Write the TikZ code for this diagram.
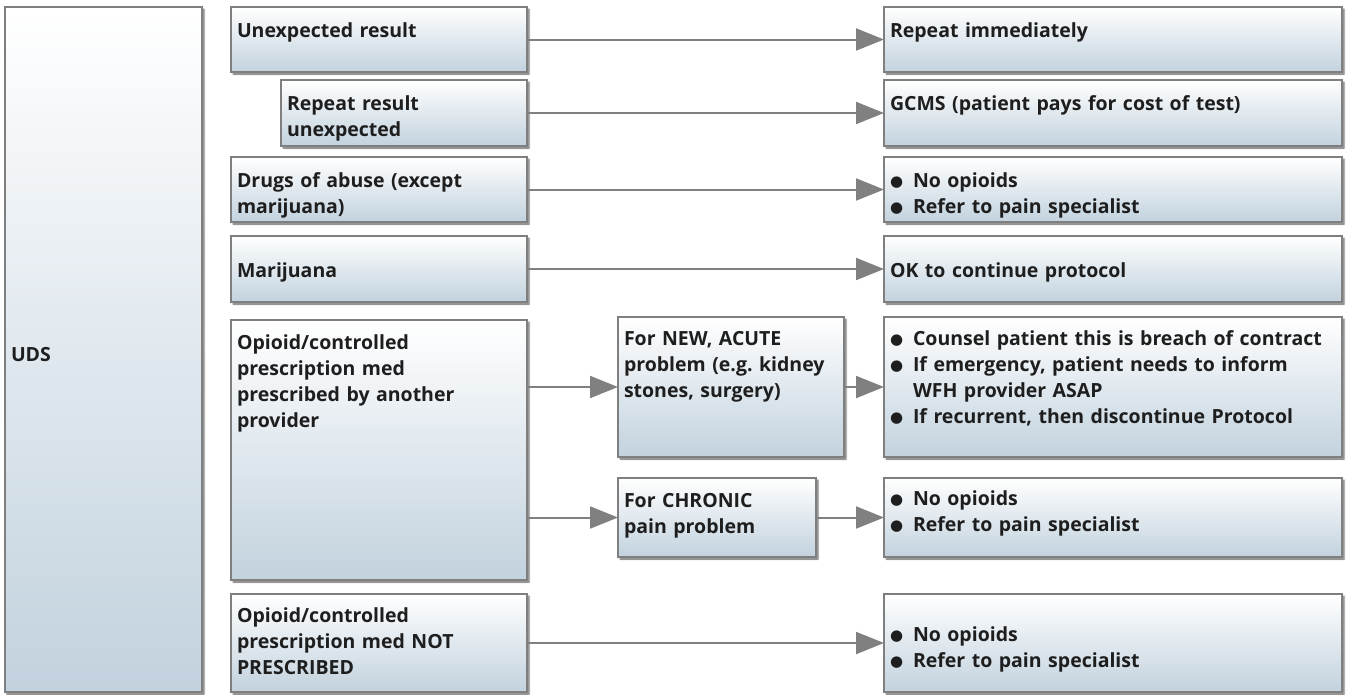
\documentclass[tikz,border=0pt]{standalone}
\usepackage{fontspec}
\setmainfont{Open Sans}
\newfontfamily\symfont{DejaVu Sans}
\usetikzlibrary{positioning,arrows.meta,shadows.blur}

\definecolor{linegray}{HTML}{7F7F7F}
\definecolor{boxblue}{HTML}{C2D2DE}
\definecolor{txtgray}{HTML}{1E1E1E}
\definecolor{arrowgray}{HTML}{808080}

\newcommand{\bul}{\makebox[23pt][l]{\raisebox{1pt}{\symfont\fontsize{15pt}{15pt}\selectfont ●}}}

\begin{document}
\begin{tikzpicture}[
        x=1pt, y=-1pt,
        box/.style={
            rectangle,
            draw=linegray,
            line width=2pt,
            top color=white,
            bottom color=boxblue,
            blur shadow={shadow xshift=2pt, shadow yshift=-2pt, shadow blur steps=4, shadow blur radius=1.5pt, shadow opacity=60},
            anchor=north west,
            align=left,
            inner xsep=6pt,
            inner ysep=0pt,
            outer sep=0pt,
            text=txtgray,
            font=\bfseries\frenchspacing\fontsize{19.5pt}{26pt}\selectfont,
            append after command={\pgfextra{\draw[white, line width=1pt]
                ([xshift=1.6pt, yshift=-1.6pt]\tikzlastnode.north west) rectangle
                ([xshift=-1.6pt, yshift=1.6pt]\tikzlastnode.south east);}}
        },
        dims/.style n args={3}{text width=#1, text height=#2, text depth=#3},
        arr/.style={
            draw=arrowgray,
            line width=2pt,
            -{Triangle[length=28pt, width=22pt]}
        }
    ]
        \useasboundingbox (0,0) rectangle (1349,694);

        % left column
        \node[box, dims={185pt}{354pt}{331pt}] (uds) at (5,7) {UDS};

        % findings
        \node[box, dims={284pt}{30pt}{35pt}] (unexp) at (231,7) {Unexpected result};
        \node[box, dims={234pt}{30pt}{36pt}] (rep)   [below right=8pt and 50pt of unexp.south west] {Repeat result\\unexpected};
        \node[box, dims={284pt}{30pt}{35pt}] (drugs) [below right=11pt and -50pt of rep.south west] {Drugs of abuse (except\\marijuana)};
        \node[box, dims={284pt}{41pt}{25pt}] (marij) [below right=14pt and 0pt of drugs.south west] {Marijuana};
        \node[box, dims={284pt}{29pt}{231pt}] (opio) [below right=18pt and 0pt of marij.south west] {Opioid/controlled\\prescription med\\prescribed by another\\provider};
        \node[box, dims={284pt}{28pt}{70pt}] (notp)  [below right=14pt and 0pt of opio.south west] {Opioid/controlled\\prescription med NOT\\PRESCRIBED};

        % other provider cases
        \node[box, dims={214pt}{28pt}{112pt}] (new)  [below right=-3pt and 91pt of opio.north east] {For NEW, ACUTE\\problem (e.g. kidney\\stones, surgery)};
        \node[box, dims={186pt}{29pt}{50pt}] (chron) [below right=21pt and 0pt of new.south west] {For CHRONIC\\pain problem};

        % actions
        \node[box, dims={446pt}{30pt}{35pt}] (act1) at (884,7) {Repeat immediately};
        \node[box, dims={446pt}{30pt}{36pt}] (act2) [below right=8pt and 0pt of act1.south west] {GCMS (patient pays for cost of test)};
        \node[box, dims={446pt}{30pt}{35pt}] (act3) [below right=11pt and 0pt of act2.south west] {\bul No opioids\\\bul Refer to pain specialist};
        \node[box, dims={446pt}{41pt}{25pt}] (act4) [below right=14pt and 0pt of act3.south west] {OK to continue protocol};
        \node[box, dims={446pt}{28pt}{112pt}] (act5) [below right=15pt and 0pt of act4.south west] {\bul Counsel patient this is breach of contract\\\bul If emergency, patient needs to inform\\\hspace*{23pt}WFH provider ASAP\\\bul If recurrent, then discontinue Protocol};
        \node[box, dims={446pt}{27pt}{52pt}] (act6) [below right=21pt and 0pt of act5.south west] {\bul No opioids\\\bul Refer to pain specialist};
        \node[box, dims={446pt}{47pt}{51pt}] (act7) [below right=37pt and 0pt of act6.south west] {\bul No opioids\\\bul Refer to pain specialist};

        \draw[arr] (unexp.east) -- (act1.west);
        \draw[arr] (rep.east)   -- (act2.west);
        \draw[arr] (drugs.east) -- (act3.west);
        \draw[arr] (marij.east) -- (act4.west);
        \draw[arr] (opio.east |- new.west)   -- (new.west);
        \draw[arr] (opio.east |- chron.west) -- (chron.west);
        \draw[arr] (new.east)   -- (act5.west);
        \draw[arr] (chron.east) -- (act6.west);
        \draw[arr] (notp.east)  -- (act7.west);
    \end{tikzpicture}
\end{document}
